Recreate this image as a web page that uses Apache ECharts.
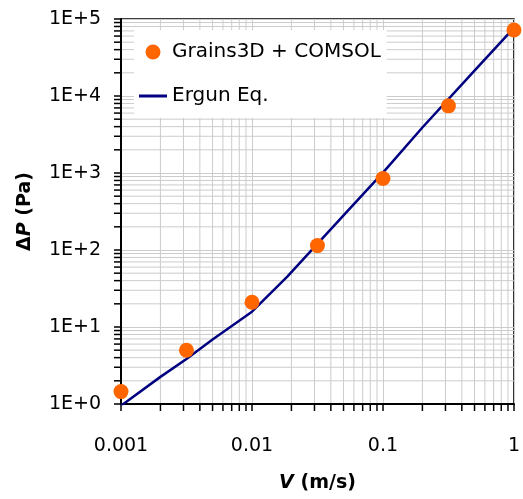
<!DOCTYPE html>
<html>
<head>
<meta charset="utf-8">
<script src="https://cdn.jsdelivr.net/npm/echarts@6/dist/echarts.min.js"></script>
<style>
  html, body { margin: 0; padding: 0; background: #fff; }
  #chart { width: 523px; height: 499px; }
</style>
</head>
<body>
<div id="chart"></div>
<script>
// 模拟结果 (Grains3D + COMSOL)
const simVelocity = [0.001, 0.00316, 0.01, 0.0316, 0.1, 0.316, 1];
const simPressure = [1.45, 5.0, 21, 114, 850, 7450, 72000];

// Ergun 方程曲线
const ergunVelocity = [0.001, 0.002, 0.00316, 0.005, 0.01, 0.0186, 0.05, 0.1, 0.2, 0.5, 1];
const ergunPressure = [0.95, 2.25, 3.85, 6.9, 15.8, 45, 281, 1010, 3900, 21300, 76500];

// 坐标轴范围和刻度
const xDecades = [0.001, 0.01, 0.1];
const yDecades = [1, 10, 100, 1000, 10000];
const minorSteps = [2, 3, 4, 5, 6, 7, 8, 9];
const xLabels = { 0.001: '0.001', 0.01: '0.01', 0.1: '0.1', 1: '1' };

const font = 'DejaVu Sans';
const gridColor = '#cccccc';

// 次刻度 (2..9 每个数量级)
const xMinor = [];
xDecades.forEach((d) => minorSteps.forEach((m) => xMinor.push([+(d * m).toPrecision(3), 1])));
const yMinor = [];
yDecades.forEach((d) => minorSteps.forEach((m) => yMinor.push([0.001, d * m])));

const chart = echarts.init(document.getElementById('chart'));

// 画次网格线 + 外侧次刻度
function minorRender(dir) {
  return (params, api) => {
    const cs = params.coordSys;
    const p = api.coord([api.value(0), api.value(1)]);
    const style = { stroke: gridColor, lineWidth: 1 };
    const tickStyle = { stroke: '#000', lineWidth: 1.5 };
    if (dir === 'x') {
      return {
        type: 'group',
        children: [
          { type: 'line', shape: { x1: p[0], y1: cs.y, x2: p[0], y2: cs.y + cs.height }, style },
          { type: 'line', shape: { x1: p[0], y1: cs.y + cs.height, x2: p[0], y2: cs.y + cs.height + 7 }, style: tickStyle },
        ],
      };
    }
    return {
      type: 'group',
      children: [
        { type: 'line', shape: { x1: cs.x, y1: p[1], x2: cs.x + cs.width, y2: p[1] }, style },
        { type: 'line', shape: { x1: cs.x - 7, y1: p[1], x2: cs.x, y2: p[1] }, style: tickStyle },
      ],
    };
  };
}

chart.setOption({
  animation: false,
  grid: {
    left: 121,
    right: 2,
    top: 19,
    bottom: 95,
    show: true,
    borderColor: '#000',
    borderWidth: 1.5,
  },
  legend: {
    orient: 'vertical',
    left: 134,
    top: 30,
    padding: [10, 6, 10, 5],
    backgroundColor: '#fff',
    itemWidth: 28,
    itemHeight: 15,
    itemGap: 20,
    data: [
      { name: 'Grains3D + COMSOL', icon: 'circle' },
      { name: 'Ergun Eq.', icon: 'path://M0,0 L28,0 L28,3 L0,3 Z' },
    ],
    textStyle: { fontFamily: font, fontSize: 20, color: '#000', lineHeight: 24 },
  },
  xAxis: {
    type: 'log',
    logBase: 10,
    min: 0.001,
    max: 1,
    name: '{i|V}  {b|(m/s)}',
    nameLocation: 'middle',
    nameGap: 70,
    nameTextStyle: {
      rich: {
        i: { fontFamily: font, fontSize: 19, fontWeight: 'bold', fontStyle: 'italic', color: '#000' },
        b: { fontFamily: font, fontSize: 19, fontWeight: 'bold', color: '#000' },
      },
    },
    axisLine: { lineStyle: { color: '#000', width: 2 } },
    axisTick: { inside: false, length: 7, lineStyle: { color: '#000', width: 1.5 } },
    axisLabel: {
      margin: 33,
      fontFamily: font,
      fontSize: 19,
      color: '#000',
      formatter: (v) => xLabels[v] || String(v),
    },
    splitLine: { show: true, lineStyle: { color: gridColor, width: 1 } },
  },
  yAxis: {
    type: 'log',
    logBase: 10,
    min: 1,
    max: 100000,
    name: '{b|Δ}{i|P}  {b|(Pa)}',
    nameLocation: 'middle',
    nameRotate: 90,
    nameGap: 86,
    nameTextStyle: {
      rich: {
        i: { fontFamily: font, fontSize: 19, fontWeight: 'bold', fontStyle: 'italic', color: '#000' },
        b: { fontFamily: font, fontSize: 19, fontWeight: 'bold', color: '#000' },
      },
    },
    axisLine: { lineStyle: { color: '#000', width: 2 } },
    axisTick: { inside: false, length: 7, lineStyle: { color: '#000', width: 1.5 } },
    axisLabel: {
      margin: 20,
      fontFamily: font,
      fontSize: 19,
      color: '#000',
      formatter: (v) => '1E+' + Math.round(Math.log10(v)),
    },
    splitLine: { show: true, lineStyle: { color: gridColor, width: 1 } },
  },
  series: [
    {
      name: 'xMinor',
      type: 'custom',
      clip: false,
      silent: true,
      z: 0,
      renderItem: minorRender('x'),
      data: xMinor,
    },
    {
      name: 'yMinor',
      type: 'custom',
      clip: false,
      silent: true,
      z: 0,
      renderItem: minorRender('y'),
      data: yMinor,
    },
    {
      name: 'Ergun Eq.',
      type: 'line',
      symbol: 'none',
      z: 3,
      color: '#000080',
      lineStyle: { color: '#000080', width: 2.5 },
      data: ergunVelocity.map((v, i) => [v, ergunPressure[i]]),
    },
    {
      name: 'Grains3D + COMSOL',
      type: 'scatter',
      symbol: 'circle',
      symbolSize: 15,
      z: 4,
      itemStyle: { color: '#ff6600', opacity: 1 },
      data: simVelocity.map((v, i) => [v, simPressure[i]]),
    },
  ],
});
</script>
</body>
</html>
